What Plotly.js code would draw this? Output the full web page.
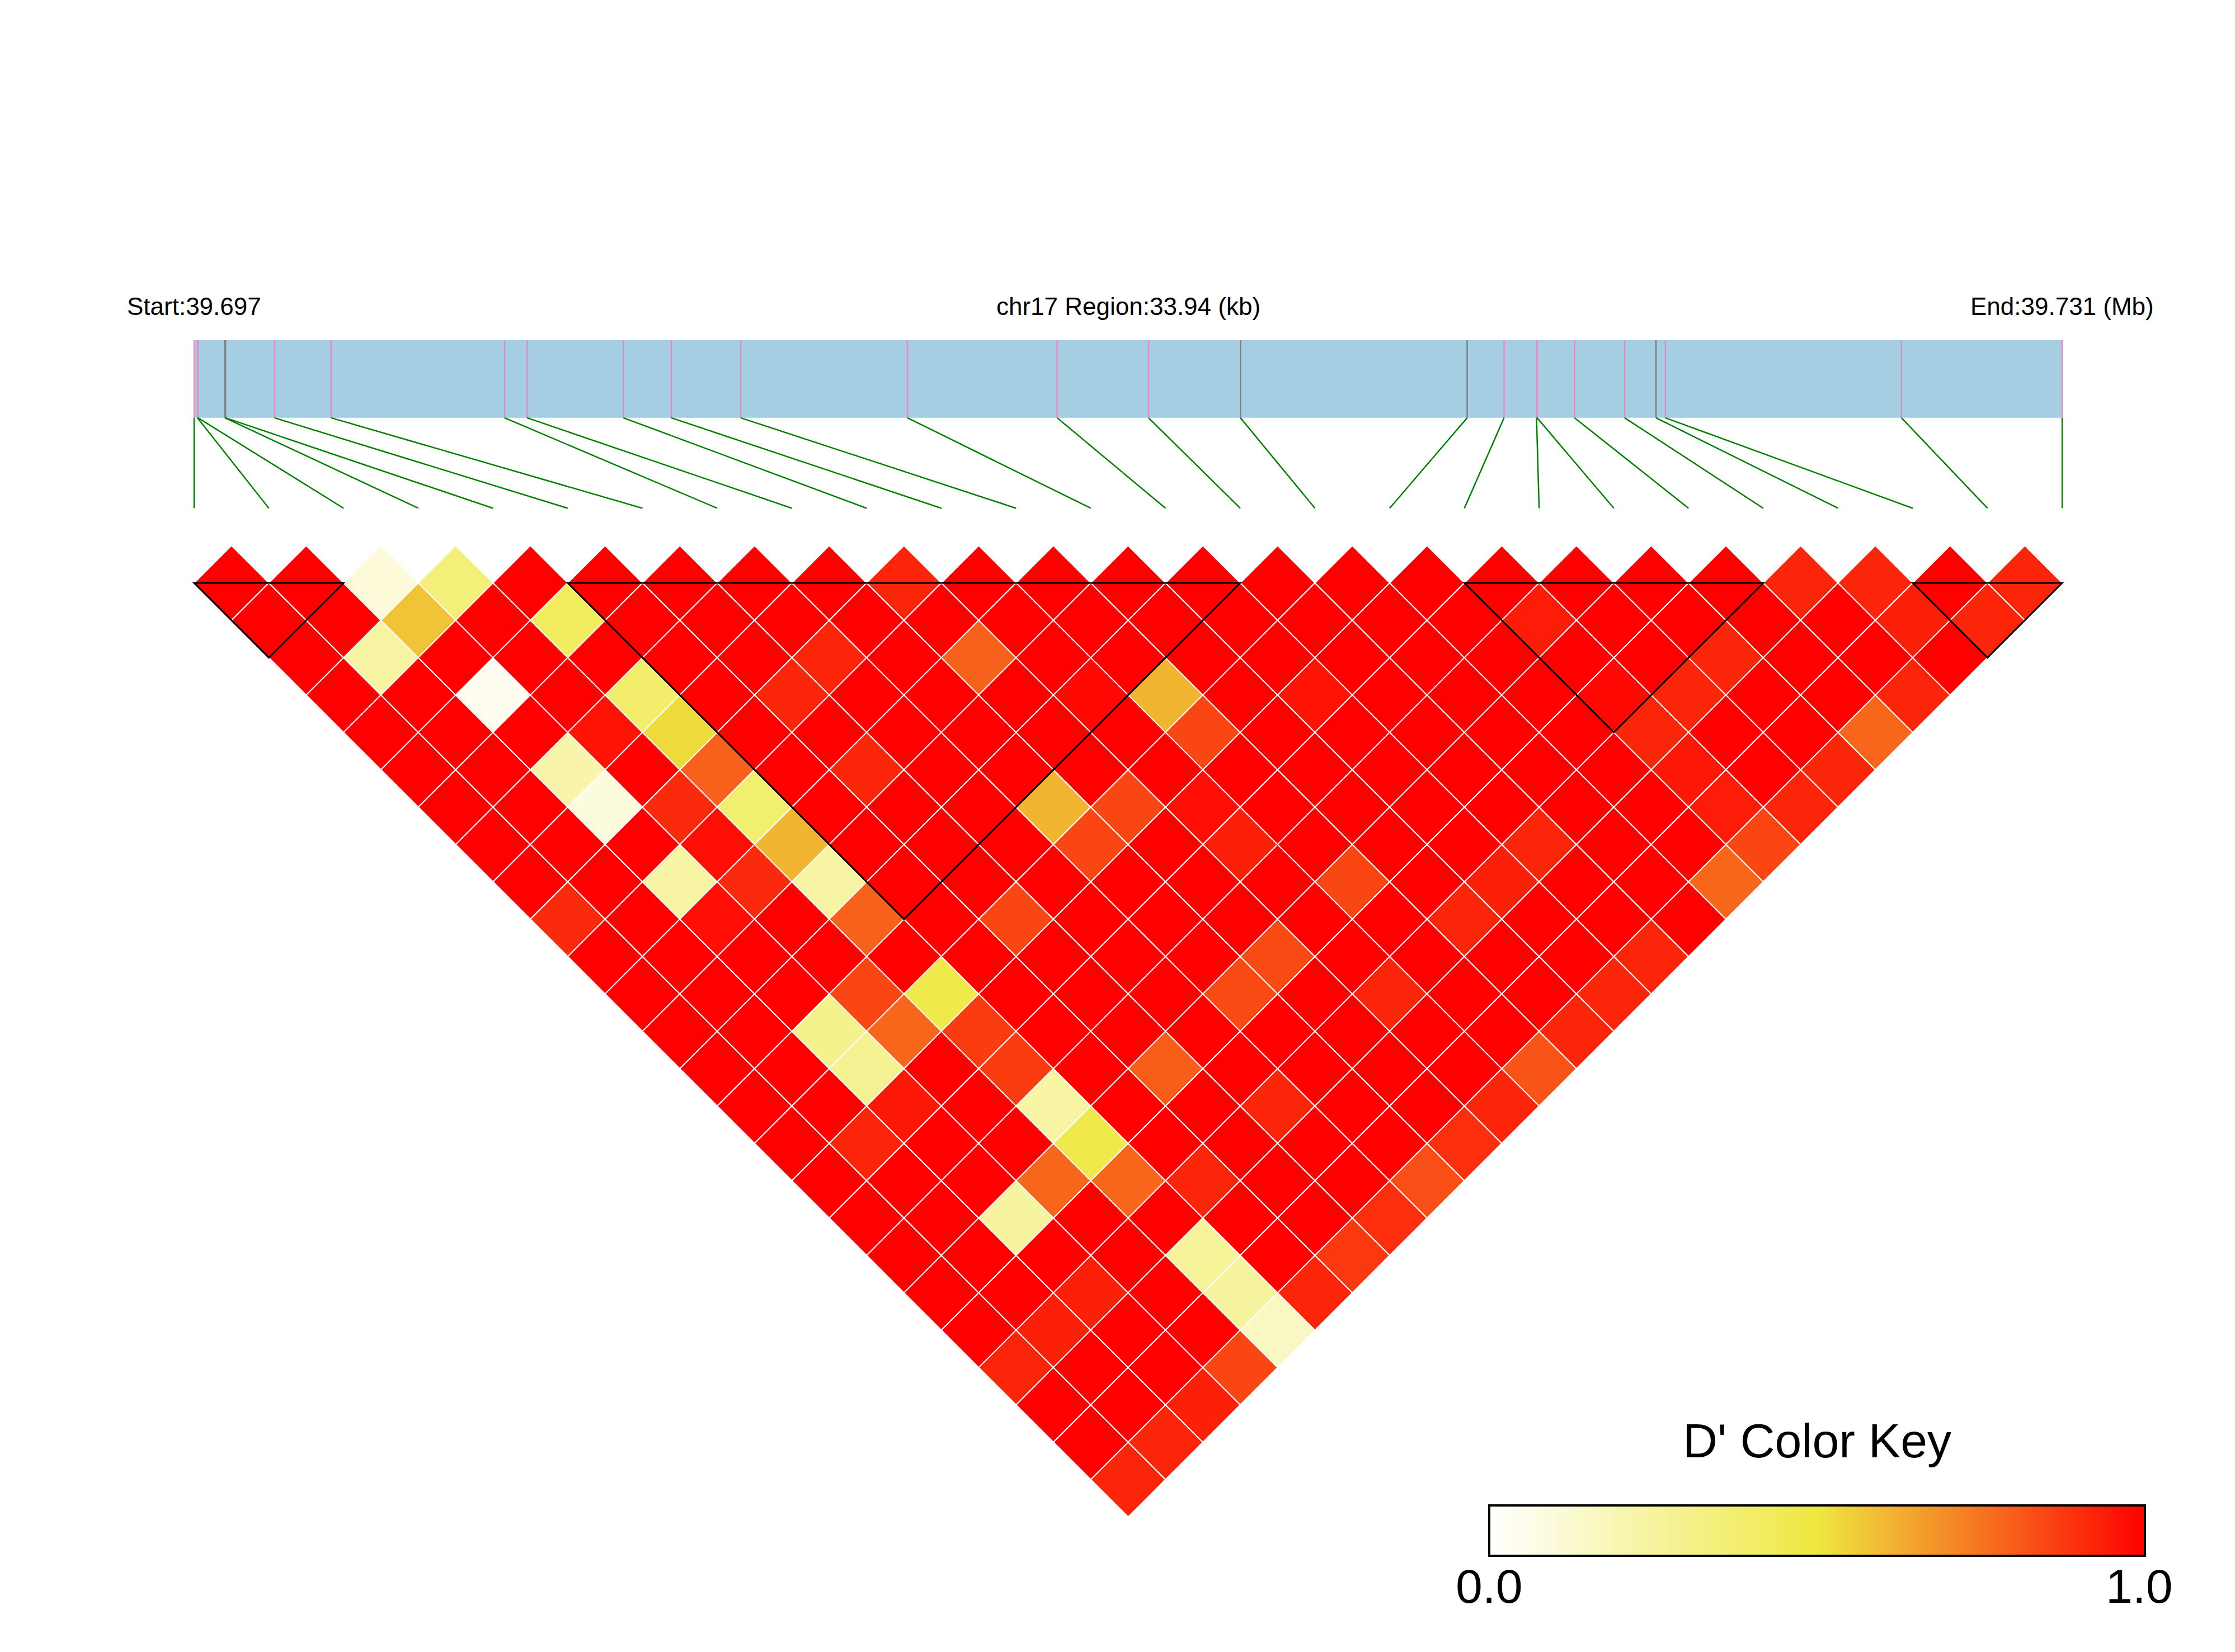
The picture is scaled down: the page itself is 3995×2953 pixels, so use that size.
<!DOCTYPE html>
<html>
<head>
<meta charset="utf-8">
<script src="https://cdn.plot.ly/plotly-3.0.1.min.js"></script>
<style>
  html, body { margin: 0; padding: 0; background: #ffffff; }
  #chart { width: 3995px; height: 2953px; }
</style>
</head>
<body>
<div id="chart"></div>
<script>
// ---------------- DATA ----------------
const chrom = 'chr17';
const regionStartMb = 39.697;
const regionEndMb = 39.731;
const regionLenKb = 33.94;

// SNP positions (kb offset from region start)
const snpPosKb = [0.00, 0.06, 0.07, 0.56, 0.57, 1.46, 2.49, 5.64, 6.05, 7.80, 8.67, 9.93, 12.96,
                  15.68, 17.34, 19.01, 23.13, 23.80, 24.39, 24.40, 25.08, 25.99, 26.56, 26.73, 31.02, 33.94];
// track mark group of each SNP (a = pink mark, b = grey mark)
const snpTrackGroup = ['a','a','a','b','b','a','a','a','a','a','a','a','a',
                       'a','a','b','b','a','a','a','a','a','b','a','a','a'];

// LD blocks (first SNP index, last SNP index)
const blockStart = [0, 5, 17, 23];
const blockEnd   = [2, 14, 21, 25];

// D' values: row i holds D'(i, j) for j = i+1 .. 25
const dprimeRows = [
  [1,1,1,1,1,1,1,1,1,0.91,1,1,1,1,1,1,1,1,1,1,1,0.92,1,1,0.92],
  [1,1,0.24,1,1,1,1,1,1,1,1,1,1,1,1,0.92,1,1,1,1,0.93,1,1,0.92],
  [0.1,0.58,1,0.04,1,0.22,0.09,1,0.24,0.97,1,1,0.3,0.28,0.95,1,1,0.25,1,0.93,1,1,0.93],
  [0.35,1,1,1,0.96,1,0.91,0.97,0.91,1,1,0.85,0.78,1,1,1,0.78,1,1,1,1,0.85],
  [1,0.42,1,0.39,0.53,0.79,0.38,0.61,0.24,0.79,1,0.47,0.87,0.87,0.24,0.47,0.78,1,0.27,0.25,0.16],
  [1,1,1,1,1,1,1,1,1,1,1,1,1,1,1,1,0.92,1,1,0.92],
  [1,1,1,0.92,1,0.92,1,1,1,0.85,1,1,1,0.8,1,1,1,1,0.88],
  [1,1,0.92,1,1,1,1,1,1,1,1,1,1,1,0.92,1,1,0.9],
  [1,1,1,1,1,1,0.61,0.85,1,1,1,0.84,1,1,1,1,0.83],
  [0.92,1,0.79,1,1,1,0.85,1,1,1,0.84,1,1,1,1,0.9],
  [1,1,1,0.98,1,1,0.97,0.93,1,1,1,0.92,1,1,0.92],
  [1,1,1,0.61,0.85,1,1,1,0.85,1,1,1,1,0.82],
  [1,1,1,1,1,1,1,1,1,0.92,1,1,0.92],
  [1,1,1,0.96,1,1,1,1,0.93,1,1,0.92],
  [1,1,1,1,1,1,1,0.92,1,1,0.92],
  [1,1,1,1,1,1,1,1,1,1],
  [1,1,1,1,1,1,1,1,0.78],
  [1,0.94,1,0.98,0.92,0.95,0.94,0.85],
  [1,1,1,0.92,1,1,0.92],
  [1,1,0.92,1,1,0.92],
  [1,1,1,1,0.78],
  [0.92,1,1,0.92],
  [0.92,0.93,1],
  [1,0.92],
  [0.92]
];

const keyTickVals = [0, 1];
const keyTickText = ['0.0', '1.0'];

// ---------------- STYLE ----------------
const FONT = 'Liberation Sans, Arial, Helvetica, sans-serif';
const colorscale = [[0, '#FFFFFF'], [0.5, '#EEE840'], [1, '#FF0000']];
const trackColors = { a: '#E78AC3', b: '#7F7F7F' };
const barColor = '#A6CEE3';
const linkColor = '#008000';
const BAR_TOP = 3.25, BAR_BOTTOM = 2.21, LINK_BOTTOM = 1.0, LABEL_Y = 3.70;
// colour key geometry (paper fractions)
const KEY_X0 = 2662 / 3995, KEY_X1 = 3834 / 3995, KEY_TOP = 1 - 2691 / 2953;
const KEY_LABEL_Y = 1 - 2835 / 2953, KEY_TITLE_Y = 0.1280;

function hexToRgb(h) {
  return [parseInt(h.slice(1,3),16), parseInt(h.slice(3,5),16), parseInt(h.slice(5,7),16)];
}
function colorFor(v) {
  for (let k = 1; k < colorscale.length; k++) {
    const [p0, c0] = colorscale[k-1], [p1, c1] = colorscale[k];
    if (v <= p1 || k === colorscale.length - 1) {
      const t = Math.max(0, Math.min(1, (v - p0) / (p1 - p0)));
      const a = hexToRgb(c0), b = hexToRgb(c1);
      const r = a.map((x, m) => Math.round(x + (b[m] - x) * t));
      return 'rgb(' + r.join(',') + ')';
    }
  }
}

const nSnp = snpPosKb.length;
const posToX = kb => kb / regionLenKb * (nSnp - 1);

const shapes = [];
// region bar
shapes.push({ type: 'rect', xref: 'x', yref: 'y', x0: posToX(0), x1: posToX(regionLenKb),
  y0: BAR_BOTTOM, y1: BAR_TOP, fillcolor: barColor, line: { width: 0 }, layer: 'above' });
// snp marks in bar
snpPosKb.forEach((p, i) => {
  shapes.push({ type: 'line', xref: 'x', yref: 'y', x0: posToX(p), x1: posToX(p),
    y0: BAR_BOTTOM, y1: BAR_TOP, line: { color: trackColors[snpTrackGroup[i]], width: 2.5 }, layer: 'above' });
});
// links from physical position to matrix position
snpPosKb.forEach((p, i) => {
  shapes.push({ type: 'line', xref: 'x', yref: 'y', x0: posToX(p), x1: i,
    y0: BAR_BOTTOM, y1: LINK_BOTTOM, line: { color: linkColor, width: 2.5 }, layer: 'above' });
});
// LD cells
const cx = [], cy = [], cv = [];
dprimeRows.forEach((row, i) => {
  row.forEach((v, k) => {
    const j = i + 1 + k;
    const x = (i + j) / 2, y = -(j - i - 1) / 2;
    cx.push(x); cy.push(y); cv.push(v);
    shapes.push({ type: 'path', xref: 'x', yref: 'y',
      path: `M ${x-0.5},${y} L ${x},${y+0.5} L ${x+0.5},${y} L ${x},${y-0.5} Z`,
      fillcolor: colorFor(v), line: { color: '#FFFFFF', width: 2 }, layer: 'above' });
  });
});
// block outlines
blockStart.forEach((a, k) => {
  const b = blockEnd[k];
  shapes.push({ type: 'path', xref: 'x', yref: 'y',
    path: `M ${a},0 L ${b},0 L ${(a+b)/2},${-(b-a)/2} Z`,
    fillcolor: 'rgba(0,0,0,0)', line: { color: '#000000', width: 3 }, layer: 'above' });
});

const annotations = [
  { xref: 'x', yref: 'y', x: 0, y: LABEL_Y, text: 'Start:' + regionStartMb.toFixed(3),
    showarrow: false, xanchor: 'center', yanchor: 'middle', font: { family: FONT, size: 44, color: '#000' } },
  { xref: 'x', yref: 'y', x: (nSnp - 1) / 2, y: LABEL_Y, text: chrom + ' Region:' + regionLenKb.toFixed(2) + ' (kb)',
    showarrow: false, xanchor: 'center', yanchor: 'middle', font: { family: FONT, size: 44, color: '#000' } },
  { xref: 'x', yref: 'y', x: nSnp - 1, y: LABEL_Y, text: 'End:' + regionEndMb.toFixed(3) + ' (Mb)',
    showarrow: false, xanchor: 'center', yanchor: 'middle', font: { family: FONT, size: 44, color: '#000' } },
  { xref: 'paper', yref: 'paper', x: (KEY_X0 + KEY_X1) / 2, y: KEY_TITLE_Y, text: "D' Color Key",
    showarrow: false, xanchor: 'center', yanchor: 'middle', font: { family: FONT, size: 86, color: '#000' } }
];
keyTickVals.forEach((v, k) => {
  annotations.push({ xref: 'paper', yref: 'paper', x: KEY_X0 + v * (KEY_X1 - KEY_X0) - v * 0.0025,
    y: KEY_LABEL_Y, text: keyTickText[k], showarrow: false, xanchor: 'center', yanchor: 'middle',
    font: { family: FONT, size: 86, color: '#000' } });
});

const trace = {
  type: 'scatter', mode: 'markers', x: cx, y: cy, hoverinfo: 'skip', showlegend: false,
  marker: {
    size: 2, color: cv, cmin: 0, cmax: 1, colorscale: colorscale, showscale: true,
    colorbar: {
      orientation: 'h', x: (KEY_X0 + KEY_X1) / 2, xanchor: 'center', y: KEY_TOP, yanchor: 'top',
      len: 1172, lenmode: 'pixels', thickness: 90, thicknessmode: 'pixels',
      outlinewidth: 4, outlinecolor: '#000000', borderwidth: 0, xpad: 0, ypad: 0,
      tickvals: keyTickVals, ticks: '', showticklabels: false
    }
  }
};

const layout = {
  width: 3995, height: 2953,
  margin: { l: 0, r: 0, t: 0, b: 0, pad: 0 },
  paper_bgcolor: '#ffffff', plot_bgcolor: '#ffffff',
  showlegend: false,
  xaxis: { range: [-2.598, 27.313], visible: false, showgrid: false, zeroline: false, fixedrange: true },
  yaxis: { range: [-14.308, 7.802], visible: false, showgrid: false, zeroline: false, fixedrange: true },
  shapes: shapes,
  annotations: annotations
};

Plotly.newPlot('chart', [trace], layout, { displayModeBar: false, staticPlot: true });
</script>
</body>
</html>
